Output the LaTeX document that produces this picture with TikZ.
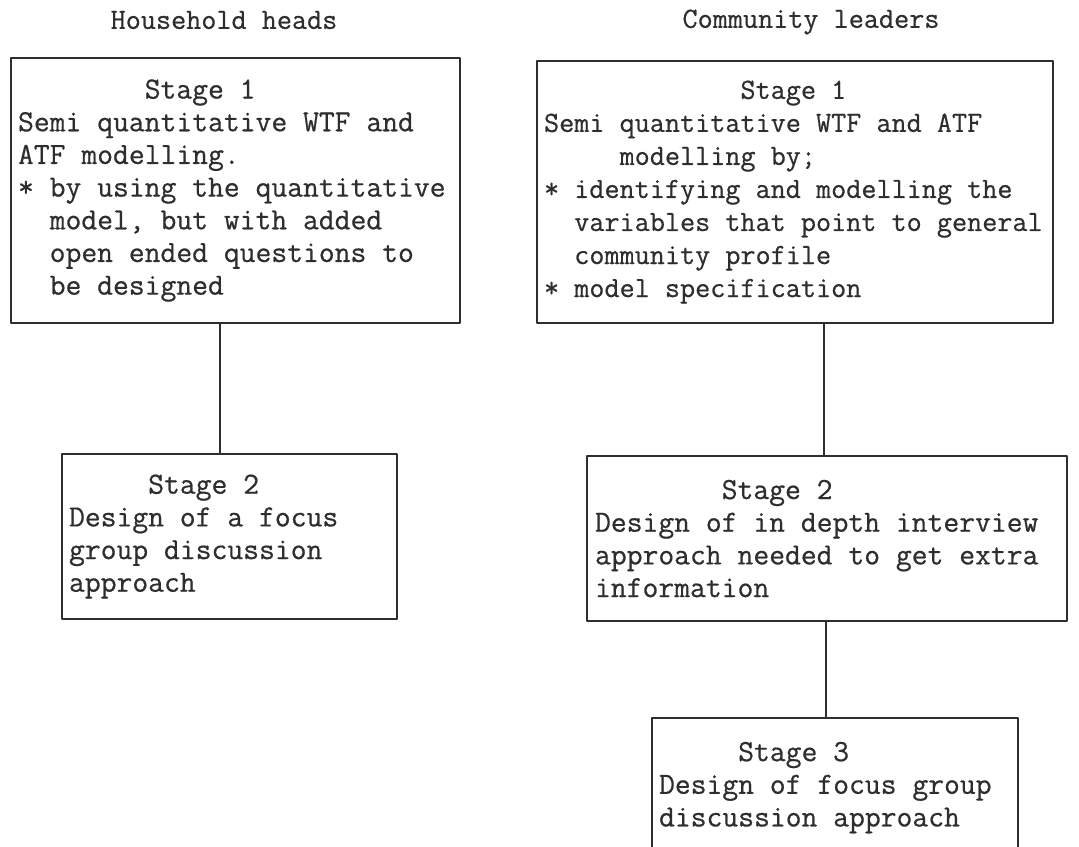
\documentclass[tikz,border=0pt]{standalone}
\usepackage{fontspec}
\newfontfamily\typeface{Latin Modern Mono}[FakeBold=0.6]
\colorlet{ink}{black!82}
\newdimen\px \px=0.02cm
\newcommand\tabin[1]{\hspace*{#1\fontcharwd\font`x}}
\newcommand\typefont[2]{\typeface\fontsize{#1}{#2}\selectfont}
\newcommand\fixspace{\frenchspacing\spaceskip=\fontcharwd\font`x\relax\xspaceskip=\spaceskip}

\begin{document}
\begin{tikzpicture}[x=0.02cm, y=-0.02cm, line join=round, line cap=round,
	stagebox/.style={draw=ink, line width=1.2pt, anchor=north west, align=left,
		inner xsep=7\px, inner ysep=0pt, text=ink, font=\typefont{17.5}{18.6},
		execute at begin node=\fixspace},
	link/.style={draw=ink, line width=1.1pt},
	head/.style={text=ink, font=\typefont{16.7}{17}, execute at begin node=\fixspace}]

	\useasboundingbox (0,0) rectangle (1079,846);
	\clip (0,0) rectangle (1079,846);

	% column titles
	\node[head] (hh) at (224,20) {Household heads};
	\node[head] (cl) at (811,22) {Community leaders};

	% household heads
	\node[stagebox, text width=435\px, minimum height=265\px] (hh1) at (10,57) {%
		\tabin{8}Stage 1\\
		Semi quantitative WTF and\\
		ATF modelling.\\
		{*} by using the quantitative\\
		\tabin{2}model, but with added\\
		\tabin{2}open ended questions to\\
		\tabin{2}be designed};
	\node[stagebox, text width=321\px, minimum height=165\px] (hh2) at (61,453) {%
		\tabin{5}Stage 2\\
		Design of a focus\\
		group discussion\\
		approach};

	% community leaders
	\node[stagebox, text width=502\px, minimum height=262\px,
		font=\typefont{16.7}{18.8}] (cl1) at (536,60) {%
		\tabin{13}Stage 1\\
		Semi quantitative WTF and ATF\\
		\tabin{5}modelling by;\\
		{*} identifying and modelling the\\
		\tabin{2}variables that point to general\\
		\tabin{2}community profile\\
		{*} model specification};
	\node[stagebox, text width=464\px, minimum height=165\px, inner xsep=8\px] (cl2) at (586,455) {%
		\tabin{8}Stage 2\\
		Design of in depth interview\\
		approach needed to get extra\\
		information};
	\node[stagebox, text width=352\px, minimum height=165\px] (cl3) at (651,717) {%
		\tabin{5}Stage 3\\
		Design of focus group\\
		discussion approach\\
		\null};

	% links
	\coordinate (lx) at (220,0);
	\coordinate (rx) at (824,0);
	\coordinate (rx2) at (826,0);
	\draw[link] (hh1.south -| lx) -- (hh2.north -| lx);
	\draw[link] (cl1.south -| rx) -- (cl2.north -| rx);
	\draw[link] (cl2.south -| rx2) -- (cl3.north -| rx2);

\end{tikzpicture}
\end{document}
